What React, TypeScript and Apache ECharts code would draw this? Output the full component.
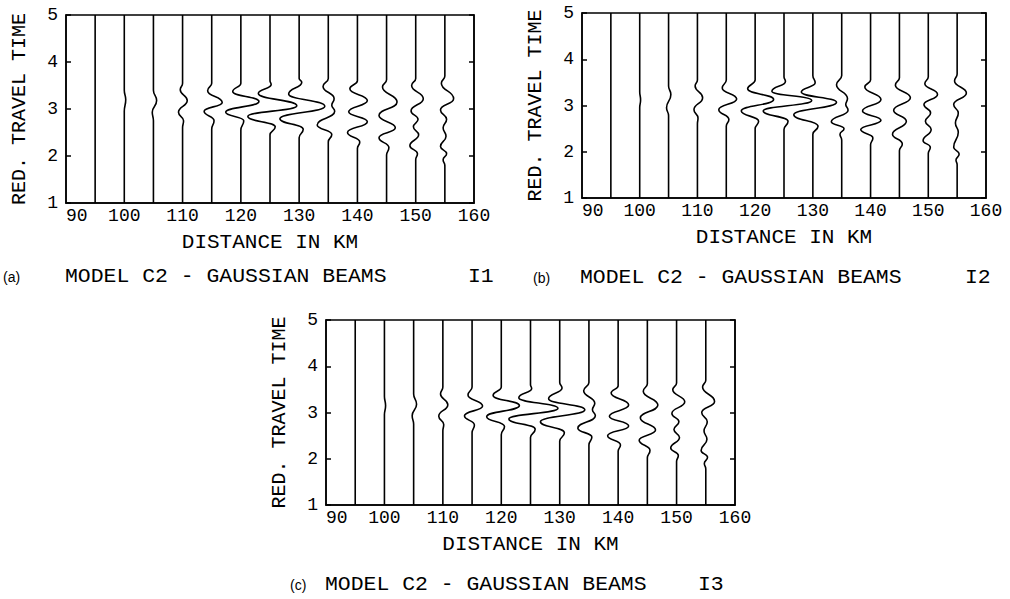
import React, { useEffect, useRef } from "react";
import * as echarts from "echarts";

// ---- axis ticks / labels ----
const distanceTicks = [90, 100, 110, 120, 130, 140, 150, 160];
const timeTicks = [1, 2, 3, 4, 5];
const xAxisName = "DISTANCE IN KM";
const yAxisName = "RED. TRAVEL TIME";
const panelLabels = ["(a)", "(b)", "(c)"];
const panelTitle = "MODEL C2 - GAUSSIAN BEAMS";
const panelIds = ["I1", "I2", "I3"];

// ---- trace distances (km) ----
const distances = [95, 100, 105, 110, 115, 120, 125, 130, 135, 140, 145, 150, 155];

// ---- wiggles: [reduced time, horizontal deflection in km] ----
const wigglesA: number[][][] = [
  [],
  [[3.4, 0], [3.2, 0.25], [2.95, 0]],
  [[3.4, 0], [3.18, 0.55], [2.93, -0.2], [2.75, 0]],
  [[3.55, 0], [3.41, -0.4], [3.18, 0.8], [2.93, -0.7], [2.75, 0.17], [2.6, 0]],
  [[3.55, 0], [3.39, -0.7], [3.14, 1.8], [2.95, -1.3], [2.75, 0.4], [2.57, 0]],
  [[3.55, 0], [3.37, -1.4], [3.16, 3.1], [2.93, -2.6], [2.75, 0.5], [2.55, 0]],
  [[3.6, 0], [3.52, 0.2], [3.33, -2.0], [3.07, 4.6], [2.84, -3.8], [2.62, 0.9], [2.45, 0]],
  [[3.65, 0], [3.57, 0.45], [3.32, -1.8], [3.06, 4.4], [2.79, -3.3], [2.57, 0.7], [2.39, 0]],
  [[3.65, 0], [3.48, -0.9], [3.22, 1.0], [3.08, 0.6], [2.95, 1.1], [2.66, -1.9], [2.46, 0.6], [2.3, 0]],
  [[3.6, 0], [3.43, -1.3], [3.18, 1.7], [2.94, -1.5], [2.73, 1.7], [2.5, -1.7], [2.3, 0.4], [2.16, 0]],
  [[3.62, 0], [3.47, -0.7], [3.15, 1.8], [2.86, -1.3], [2.6, 1.5], [2.39, -1.3], [2.18, 0.4], [2.02, 0]],
  [[3.65, 0], [3.5, -0.7], [3.22, 1.3], [2.96, -0.8], [2.78, 0.4], [2.62, -0.4], [2.45, 0.5], [2.22, -1.0], [2.05, 0.3], [1.92, 0]],
  [[3.7, 0], [3.55, -0.6], [3.22, 1.5], [2.98, -0.75], [2.78, 0.3], [2.6, -0.3], [2.42, 0.2], [2.2, -0.75], [2.05, 0.3], [1.92, -0.3], [1.8, 0]],
];

const wigglesB: number[][][] = [
  [],
  [[3.3, 0], [3.12, 0.15], [2.95, 0]],
  [[3.42, 0], [3.24, 0.4], [2.95, -0.35], [2.78, 0]],
  [[3.55, 0], [3.42, -0.4], [3.17, 0.9], [2.91, -0.6], [2.73, 0.1], [2.6, 0]],
  [[3.55, 0], [3.38, -0.7], [3.14, 1.8], [2.91, -1.3], [2.7, 0.45], [2.55, 0]],
  [[3.55, 0], [3.36, -1.3], [3.13, 3.2], [2.88, -2.4], [2.66, 0.6], [2.5, 0]],
  [[3.62, 0], [3.52, 0.25], [3.31, -2.1], [3.11, 4.8], [2.88, -3.6], [2.66, 0.7], [2.48, 0]],
  [[3.65, 0], [3.49, 0.4], [3.29, -2.0], [3.07, 4.1], [2.8, -3.3], [2.55, 0.9], [2.38, 0]],
  [[3.65, 0], [3.45, -0.9], [3.15, 1.0], [3.02, 0.7], [2.9, 1.1], [2.65, -1.8], [2.5, 0.4], [2.38, -0.3], [2.25, 0]],
  [[3.55, 0], [3.4, -1.0], [3.13, 1.8], [2.88, -1.4], [2.68, 1.8], [2.48, -1.7], [2.3, 0.4], [2.15, 0]],
  [[3.6, 0], [3.44, -0.7], [3.17, 1.9], [2.9, -1.0], [2.66, 1.2], [2.38, -1.2], [2.17, 0.5], [2.02, 0]],
  [[3.62, 0], [3.47, -0.6], [3.24, 1.6], [3.02, -0.75], [2.84, 0.4], [2.66, -0.5], [2.48, 0.5], [2.24, -0.9], [2.1, 0.35], [1.96, 0]],
  [[3.68, 0], [3.53, -0.45], [3.27, 1.6], [3.02, -0.6], [2.84, 0.2], [2.62, -0.3], [2.42, 0.2], [2.1, -0.6], [1.95, 0.35], [1.82, -0.2], [1.72, 0]],
];

const wigglesC: number[][][] = [
  [],
  [[3.35, 0], [3.15, 0.2], [2.95, 0]],
  [[3.4, 0], [3.18, 0.5], [2.93, -0.25], [2.75, 0]],
  [[3.55, 0], [3.4, -0.4], [3.17, 0.85], [2.92, -0.7], [2.74, 0.15], [2.6, 0]],
  [[3.55, 0], [3.38, -0.7], [3.14, 1.8], [2.93, -1.3], [2.73, 0.4], [2.56, 0]],
  [[3.55, 0], [3.37, -1.4], [3.15, 3.1], [2.91, -2.5], [2.7, 0.55], [2.52, 0]],
  [[3.6, 0], [3.52, 0.2], [3.32, -2.0], [3.09, 4.7], [2.86, -3.7], [2.64, 0.8], [2.46, 0]],
  [[3.65, 0], [3.53, 0.4], [3.3, -1.9], [3.06, 4.3], [2.8, -3.3], [2.56, 0.8], [2.38, 0]],
  [[3.65, 0], [3.47, -0.9], [3.2, 1.0], [3.06, 0.6], [2.93, 1.1], [2.66, -1.9], [2.47, 0.5], [2.3, 0]],
  [[3.58, 0], [3.42, -1.2], [3.16, 1.8], [2.92, -1.5], [2.71, 1.8], [2.5, -1.8], [2.3, 0.4], [2.16, 0]],
  [[3.62, 0], [3.46, -0.7], [3.16, 1.8], [2.88, -1.2], [2.62, 1.4], [2.4, -1.4], [2.18, 0.45], [2.02, 0]],
  [[3.64, 0], [3.49, -0.65], [3.23, 1.4], [2.98, -0.8], [2.8, 0.4], [2.63, -0.45], [2.46, 0.5], [2.23, -1.0], [2.07, 0.3], [1.94, 0]],
  [[3.7, 0], [3.55, -0.55], [3.24, 1.5], [3.0, -0.7], [2.8, 0.25], [2.6, -0.3], [2.42, 0.2], [2.18, -0.8], [2.03, 0.3], [1.9, -0.25], [1.78, 0]],
];

const panels = [wigglesA, wigglesB, wigglesC];

export default function App() {
  const ref = useRef<HTMLDivElement>(null);

  useEffect(() => {
    if (!ref.current) return;
    const chart = echarts.init(ref.current, null, { renderer: "svg" });

    const grids = [
      { left: 66, top: 15, width: 408, height: 188 },
      { left: 582, top: 13, width: 404, height: 185 },
      { left: 326, top: 320, width: 409, height: 185 },
    ];
    const mono = "Liberation Mono";
    const xMin = distanceTicks[0];
    const xMax = distanceTicks[distanceTicks.length - 1];
    const xStep = distanceTicks[1] - distanceTicks[0];
    const yMin = timeTicks[0];
    const yMax = timeTicks[timeTicks.length - 1];
    const yStep = timeTicks[1] - timeTicks[0];

    const axisLine = { show: true, lineStyle: { color: "#000", width: 1.5 } };

    const xAxes = grids.map((_, i) => ({
      type: "value",
      gridIndex: i,
      min: xMin,
      max: xMax,
      interval: xStep,
      axisLine,
      axisTick: { show: false },
      splitLine: { show: false },
      axisLabel: { color: "#000", fontFamily: mono, fontSize: 18, margin: 4, alignMinLabel: "left" },
      name: xAxisName,
      nameLocation: "middle",
      nameGap: 29,
      nameTextStyle: { color: "#000", fontFamily: mono, fontSize: 21 },
    }));

    const yAxes: any[] = [];
    grids.forEach((_, i) => {
      yAxes.push({
        type: "value",
        gridIndex: i,
        position: "left",
        min: yMin,
        max: yMax,
        interval: yStep,
        axisLine,
        axisTick: { show: true, inside: true, length: 5, lineStyle: { color: "#000", width: 1.5 } },
        splitLine: { show: false },
        axisLabel: { color: "#000", fontFamily: mono, fontSize: 18, margin: 8 },
        name: yAxisName,
        nameLocation: "middle",
        nameGap: 37,
        nameTextStyle: { color: "#000", fontFamily: mono, fontSize: 20 },
      });
      yAxes.push({
        type: "value",
        gridIndex: i,
        position: "right",
        min: yMin,
        max: yMax,
        interval: yStep,
        axisLine,
        axisTick: { show: true, inside: true, length: 5, lineStyle: { color: "#000", width: 1.5 } },
        splitLine: { show: false },
        axisLabel: { show: false },
      });
    });

    const series: any[] = [];
    panels.forEach((wiggles, p) => {
      distances.forEach((d, k) => {
        const pts = wiggles[k] || [];
        const data = [[d, yMax], ...pts.map(([t, o]) => [d + o, t]), [d, yMin]];
        series.push({
          type: "line",
          xAxisIndex: p,
          yAxisIndex: 2 * p,
          data,
          symbol: "none",
          smooth: 0.5,
          smoothMonotone: "y",
          silent: true,
          lineStyle: { color: "#000", width: 1.6 },
        });
      });
    });

    const captionPos = [
      { lx: 3, tx: 65, ix: 468, y: 277 },
      { lx: 533, tx: 580, ix: 965, y: 278 },
      { lx: 290, tx: 325, ix: 698, y: 585 },
    ];
    const graphic: any[] = [];
    captionPos.forEach((c, i) => {
      graphic.push({
        type: "text",
        x: c.lx,
        y: c.y,
        style: { text: panelLabels[i], font: "14px 'Liberation Sans'", fill: "#000", textAlign: "left", textVerticalAlign: "middle" },
      });
      graphic.push({
        type: "text",
        x: c.tx,
        y: c.y,
        scaleX: 1.1,
        style: { text: panelTitle, font: `19.5px '${mono}'`, fill: "#000", textAlign: "left", textVerticalAlign: "middle" },
      });
      graphic.push({
        type: "text",
        x: c.ix,
        y: c.y,
        scaleX: 1.1,
        style: { text: panelIds[i], font: `19.5px '${mono}'`, fill: "#000", textAlign: "left", textVerticalAlign: "middle" },
      });
    });

    chart.setOption({
      animation: false,
      backgroundColor: "#fff",
      grid: grids.map((g) => ({ ...g, show: true, borderColor: "#000", borderWidth: 1.5, backgroundColor: "transparent" })),
      xAxis: xAxes,
      yAxis: yAxes,
      series,
      graphic,
    });

    return () => chart.dispose();
  }, []);

  return <div ref={ref} style={{ position: "fixed", left: 0, top: 0, width: 1010, height: 599 }} />;
}
